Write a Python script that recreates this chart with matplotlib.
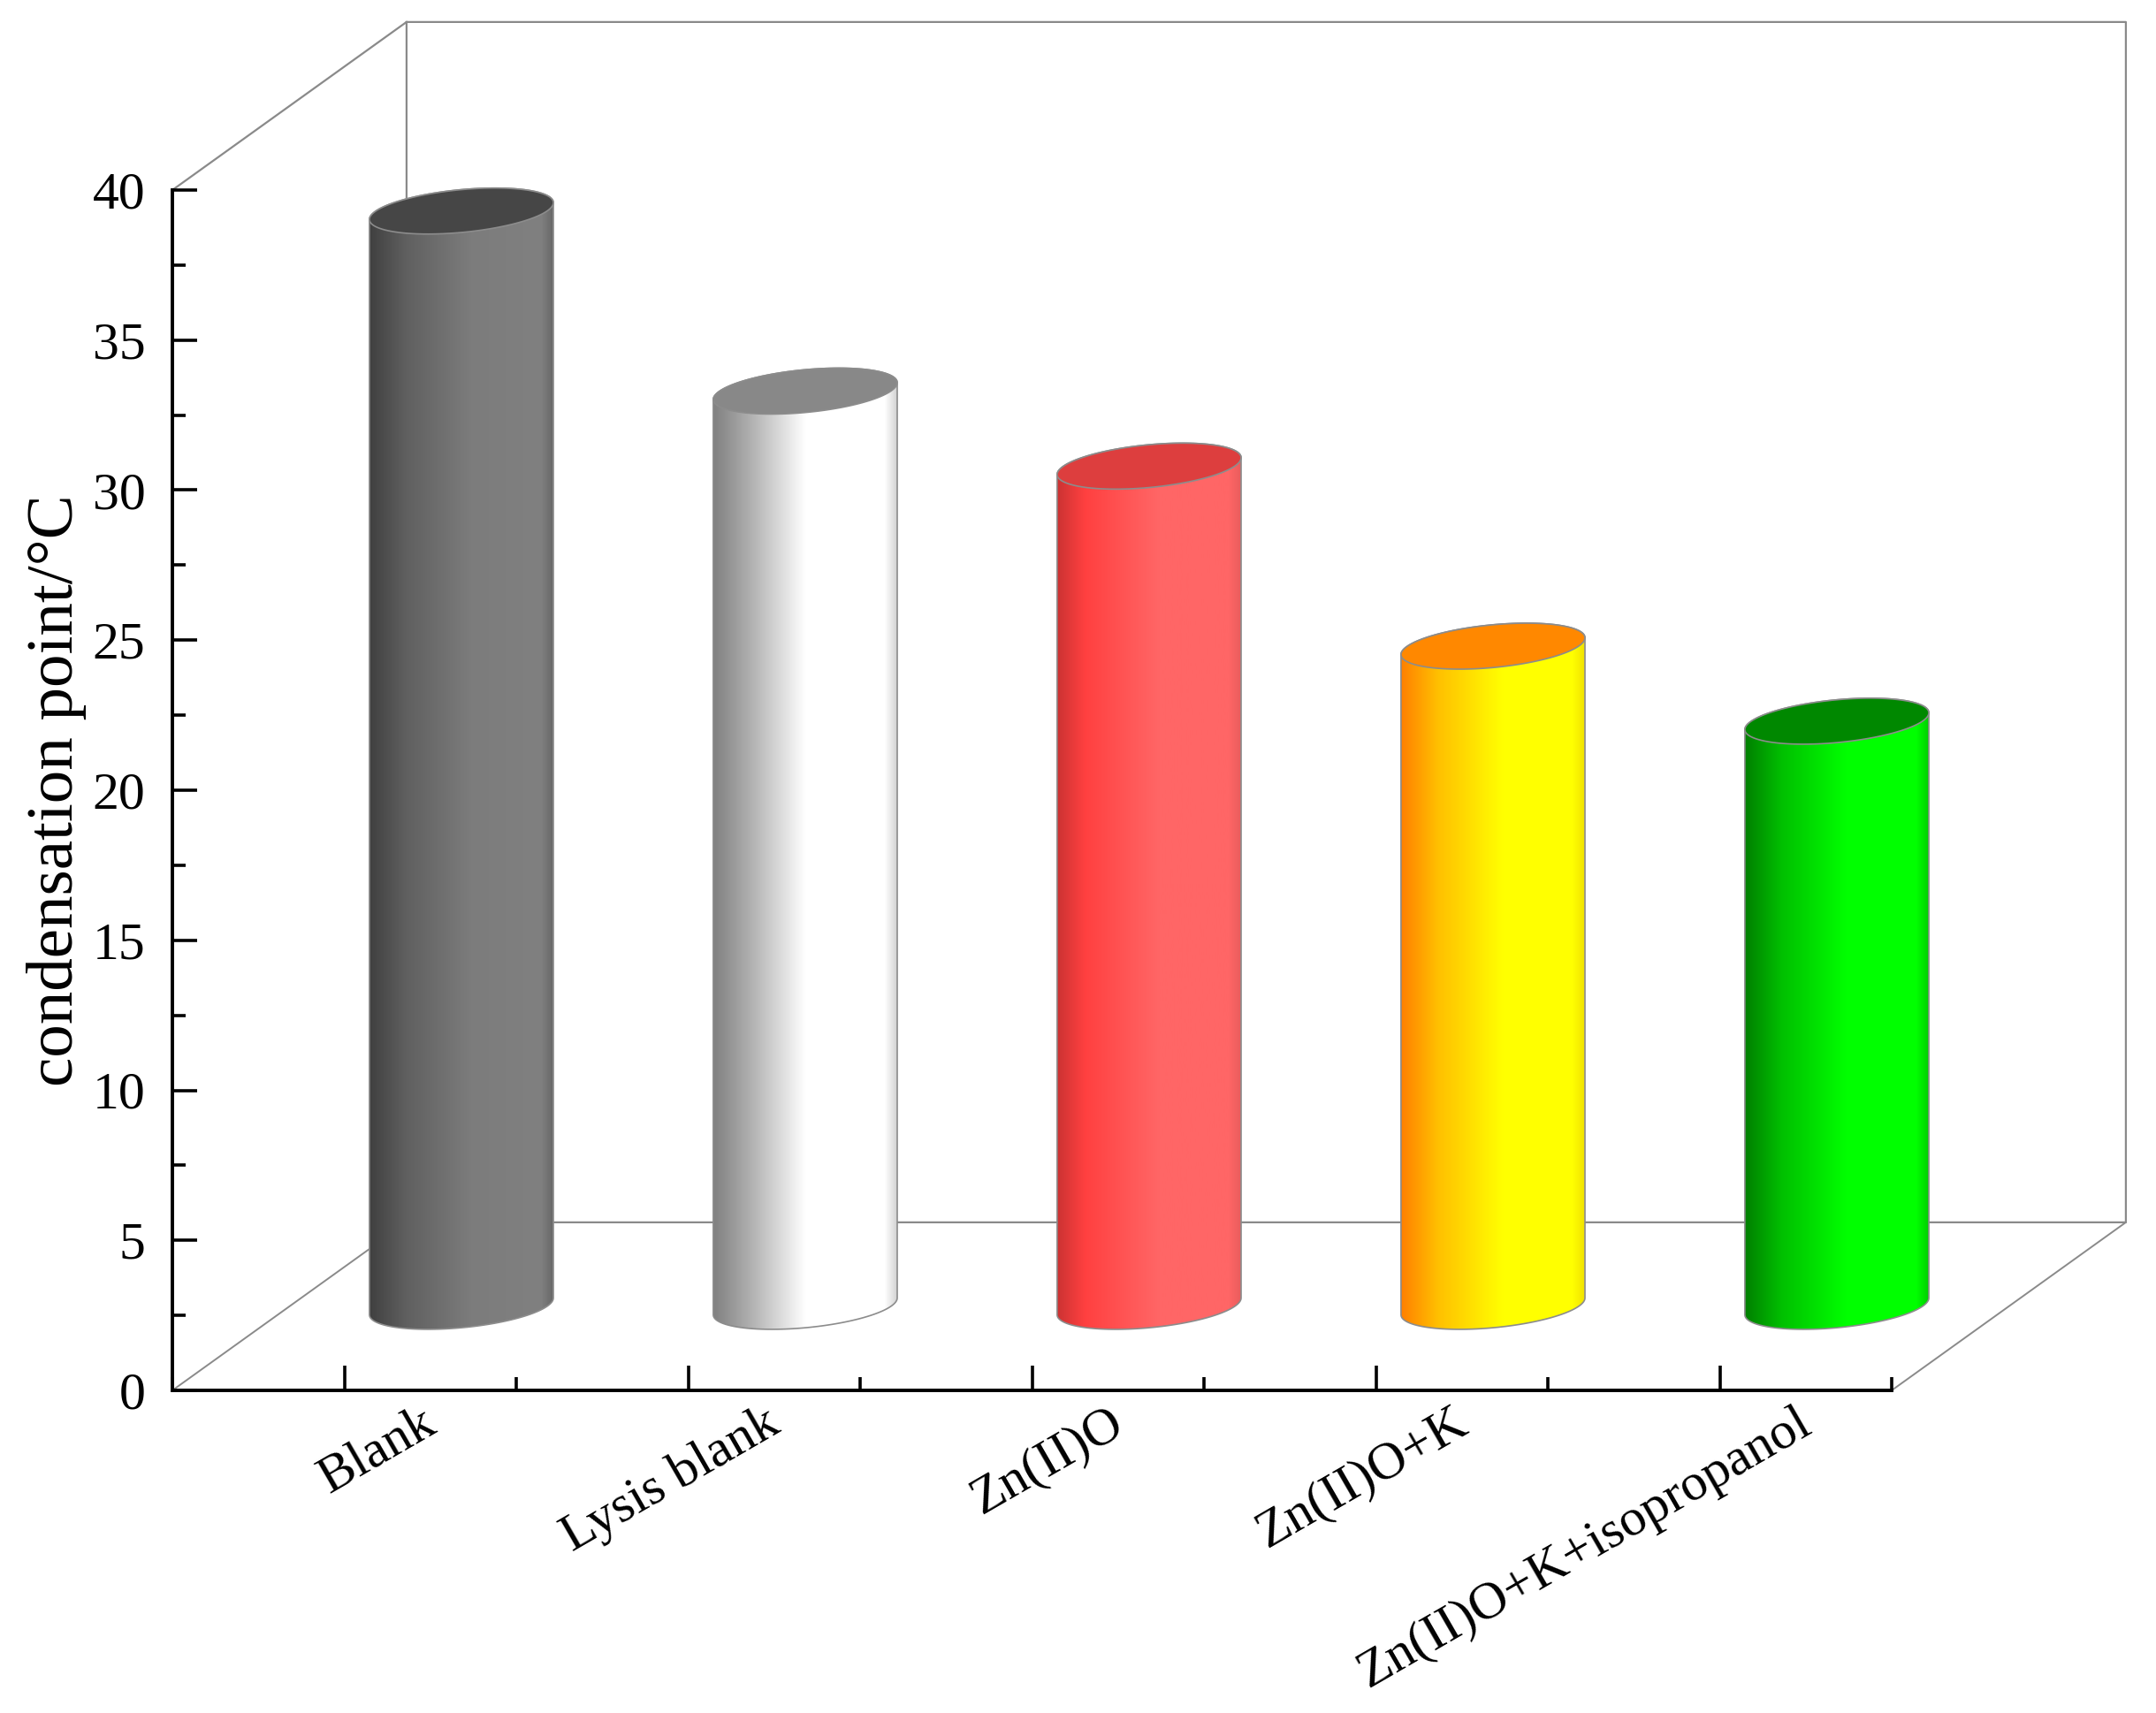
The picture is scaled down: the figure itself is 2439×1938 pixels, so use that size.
import numpy as np
import matplotlib.pyplot as plt
from matplotlib.colors import LinearSegmentedColormap
from matplotlib.patches import Polygon
from matplotlib.ticker import MultipleLocator
from matplotlib.transforms import ScaledTranslation

plt.rcParams['font.family'] = ['Liberation Serif', 'DejaVu Serif']

labels = ["Blank", "Lysis blank", "Zn(II)O", "Zn(II)O+K", "Zn(II)O+K+isopropanol"]
values = [36.5, 30.5, 28.0, 22.0, 19.5]

# left-to-right shading of each cylinder, and the colour of its lid
side_colors = [
    [(0, "#404040"), (0.2, "#606060"), (0.55, "#7c7c7c"), (0.93, "#808080"), (1, "#666666")],
    [(0, "#808080"), (0.2, "#b0b0b0"), (0.5, "#ffffff"), (0.93, "#ffffff"), (1, "#d0d0d0")],
    [(0, "#cc3333"), (0.15, "#ff4040"), (0.55, "#ff6666"), (0.93, "#ff6666"), (1, "#e85c5c")],
    [(0, "#ff8000"), (0.2, "#ffc000"), (0.55, "#ffff00"), (0.93, "#ffff00"), (1, "#f0e000")],
    [(0, "#008000"), (0.2, "#00c000"), (0.55, "#00ff00"), (0.93, "#00ff00"), (1, "#00cc00")],
]
top_colors = ["#464646", "#888888", "#dd3e3e", "#ff8800", "#008800"]

WIDTH, HEIGHT = 2439, 1938
X_LEFT, X_RIGHT, Y_TOP, Y_BOTTOM = 195, 2140, 215, 1573

# depth of the floor, in data units
DEPTH_X = 0.681
DEPTH_Y = 5.6
# cylinder shape, in data units
RADIUS = 0.2675
TILT = 0.28
MINOR_R = 0.713

WALL = "#8a8a8a"
EDGE = "#8c8c8c"


def ellipse(cx, cy, t):
    return cx + RADIUS * np.cos(t), cy + TILT * np.cos(t) + MINOR_R * np.sin(t)


fig = plt.figure(figsize=(WIDTH / 100, HEIGHT / 100), dpi=100)
ax = fig.add_axes([X_LEFT / WIDTH, 1 - Y_BOTTOM / HEIGHT,
                   (X_RIGHT - X_LEFT) / WIDTH, (Y_BOTTOM - Y_TOP) / HEIGHT])
ax.patch.set_visible(False)

x0, x1 = 0.5, 5.5
y0, y1 = 0, 40

# back wall and the depth edges
wall_x = [x0, x0 + DEPTH_X, x1 + DEPTH_X, x1 + DEPTH_X, x0 + DEPTH_X, x0 + DEPTH_X]
wall_y = [y1, y1 + DEPTH_Y, y1 + DEPTH_Y, y0 + DEPTH_Y, y0 + DEPTH_Y, y1 + DEPTH_Y]
ax.plot(wall_x, wall_y, color=WALL, lw=1.6, clip_on=False, zorder=1)
ax.plot([x0, x0 + DEPTH_X], [y0, y0 + DEPTH_Y], color=WALL, lw=1.4, clip_on=False, zorder=1)
ax.plot([x1, x1 + DEPTH_X], [y0, y0 + DEPTH_Y], color=WALL, lw=1.4, clip_on=False, zorder=1)

for i, value in enumerate(values):
    cx = i + 1 + DEPTH_X / 2
    base = DEPTH_Y / 2
    top = base + value

    t_low = np.linspace(np.pi, 2 * np.pi, 80)
    t_top = np.linspace(0, np.pi, 80)
    bx, by = ellipse(cx, base, t_low)
    tx, ty = ellipse(cx, top, t_top)
    side = np.column_stack([np.r_[bx, tx], np.r_[by, ty]])

    body = Polygon(side, closed=True, facecolor="none", edgecolor=EDGE, lw=1.2,
                   clip_on=False, zorder=3)
    ax.add_patch(body)

    cmap = LinearSegmentedColormap.from_list(f"side{i}", side_colors[i])
    img = ax.imshow(np.linspace(0, 1, 256).reshape(1, -1), cmap=cmap, aspect="auto",
                    extent=[cx - RADIUS, cx + RADIUS, base - 2, top + 2], zorder=2)
    # the last cylinder sticks out past the axes box because of the depth offset
    img.set_clip_box(fig.bbox)
    img.set_clip_path(Polygon(side, closed=True, transform=ax.transData))

    t_all = np.linspace(0, 2 * np.pi, 160)
    lx, ly = ellipse(cx, top, t_all)
    ax.add_patch(Polygon(np.column_stack([lx, ly]), closed=True, facecolor=top_colors[i],
                         edgecolor=EDGE, lw=1.2, clip_on=False, zorder=4))

ax.set_xlim(x0, x1)
ax.set_ylim(y0, y1)

for name in ["top", "right"]:
    ax.spines[name].set_visible(False)
for name in ["left", "bottom"]:
    ax.spines[name].set_linewidth(2.8)
    ax.spines[name].set_zorder(5)

ax.set_xticks(range(1, 6))
ax.xaxis.set_minor_locator(MultipleLocator(1, offset=0.5))
ax.yaxis.set_major_locator(MultipleLocator(5))
ax.yaxis.set_minor_locator(MultipleLocator(2.5))
ax.tick_params(which="major", direction="in", length=20, width=2.6)
ax.tick_params(which="minor", direction="in", length=11, width=2.6)
ax.tick_params(axis="y", which="major", labelsize=43, pad=22)

ax.set_xticklabels(labels, rotation=30, ha="right", va="top", rotation_mode="anchor", fontsize=43)
shift = ScaledTranslation(86 / 100, -5 / 100, fig.dpi_scale_trans)
for lab in ax.get_xticklabels():
    lab.set_transform(lab.get_transform() + shift)

ax.set_ylabel("condensation point/°C", fontsize=54, labelpad=5)

fig.savefig("out.png", dpi=100, facecolor="white")
